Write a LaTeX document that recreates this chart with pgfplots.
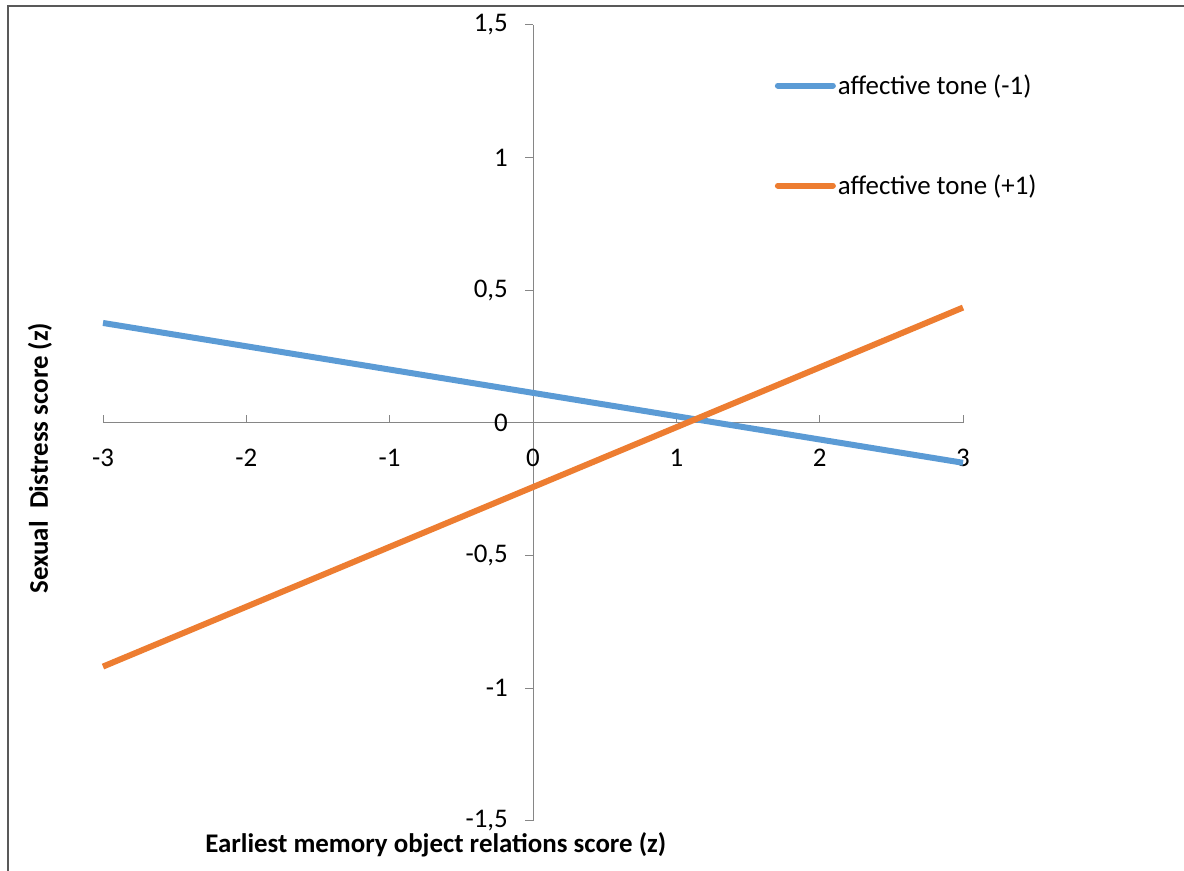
\documentclass[border=0pt]{standalone}
\usepackage{fontspec}
\setmainfont{Carlito}
\usepackage{pgfplots}
\pgfplotsset{compat=1.18}
\definecolor{toneneg}{HTML}{5B9BD5}
\definecolor{tonepos}{HTML}{ED7D31}
\definecolor{axisgray}{HTML}{868686}
\definecolor{framegray}{HTML}{595959}

\begin{document}
\begin{tikzpicture}[x=1bp,y=1bp]
\useasboundingbox (0,0) rectangle (1184,871);
% chart frame (only left and top edges are inside the picture)
\draw[framegray, line width=2bp] (8,0) -- (8,865) -- (1184,865);
\begin{axis}[
    at={(103bp,50bp)}, anchor=south west,
    scale only axis, width=860bp, height=796bp,
    xmin=-3, xmax=3, ymin=-1.5, ymax=1.5,
    axis lines=middle,
    hide obscured x ticks=false, hide obscured y ticks=false,
    axis line style={axisgray, line width=1bp, -},
    every tick/.style={axisgray, line width=1bp},
    major tick length=8bp,
    xtick align=inside, ytick align=outside,
    xtick={-3,-2,-1,0,1,2,3},
    xticklabels={-3,-2,-1,0,1,2,3},
    ytick={-1.5,-1,-0.5,0,0.5,1,1.5},
    yticklabels={{-1,5},-1,{-0,5},0,{0,5},1,{1,5}},
    tick label style={font=\fontsize{27}{31}\selectfont, inner sep=0pt},
    xticklabel style={anchor=center, yshift=-35bp},
    yticklabel style={anchor=east, xshift=-17bp},
    xlabel={Earliest memory object relations score (z)},
    ylabel={Sexual\ \ Distress score (z)},
    every axis x label/.style={at={(axis description cs:0.387,-0.030)}, anchor=center,
        font=\bfseries\fontsize{27}{31}\selectfont},
    every axis y label/.style={at={(axis description cs:-0.0733,0.456)}, anchor=center,
        rotate=90, font=\bfseries\fontsize{27}{31}\selectfont},
    clip=false,
    legend style={at={(rel axis cs:0.781,0.94)}, anchor=north west, draw=none, fill=none,
        font=\fontsize{27}{31}\selectfont, row sep=75bp, inner sep=0pt},
    legend cell align=left,
    legend image code/.code={\draw[#1, line cap=round] (0bp,0bp) -- (55bp,0bp);},
]
\addplot[toneneg, line width=6bp] coordinates {(-3,0.377) (3,-0.150)};
\addlegendentry{affective tone (-1)}
\addplot[tonepos, line width=6bp] coordinates {(-3,-0.918) (3,0.435)};
\addlegendentry{affective tone (+1)}
\end{axis}
\end{tikzpicture}
\end{document}
